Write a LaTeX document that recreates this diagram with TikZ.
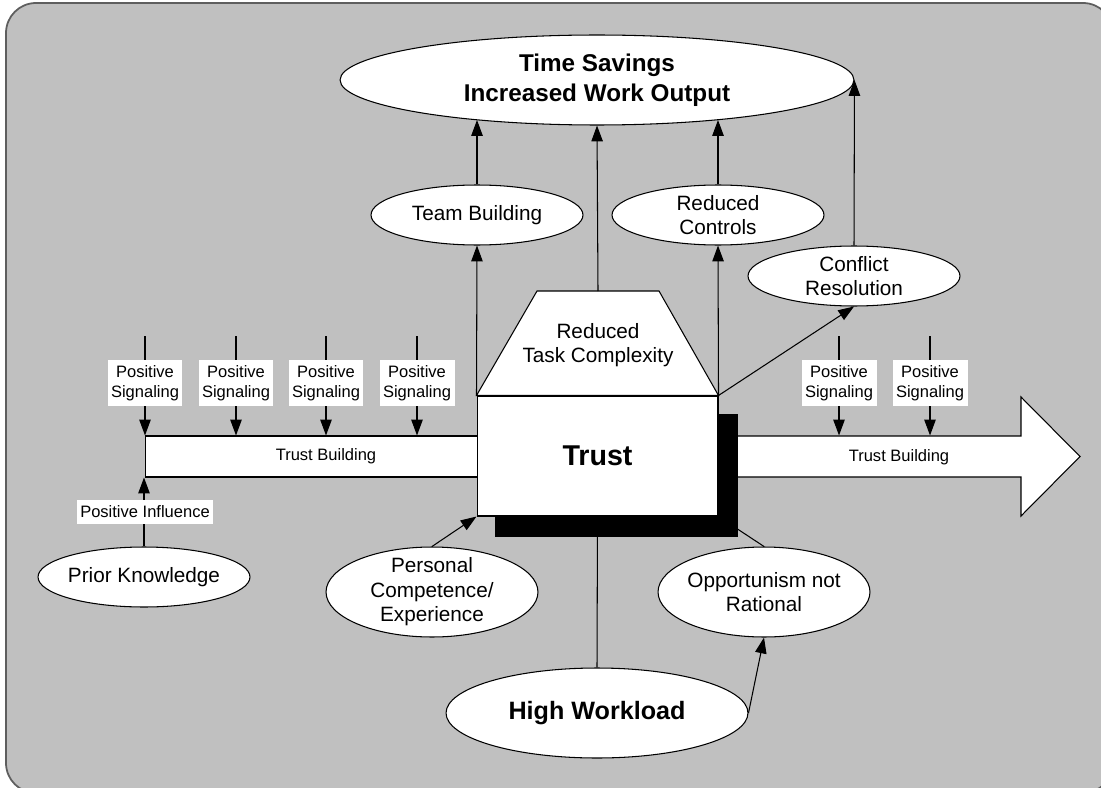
\documentclass[tikz,border=0pt]{standalone}
\usepackage{fontspec}
\setmainfont{Liberation Sans}
\usetikzlibrary{arrows.meta,shapes.geometric}
\definecolor{panelgray}{HTML}{C0C0C0}
\definecolor{rimgray}{HTML}{5E5E5E}
\pgfdeclarelayer{back}
\pgfsetlayers{back,main}

\begin{document}
\begin{tikzpicture}[
            x=0.02cm, y=-0.02cm,
            oval/.style={ellipse, draw=black, fill=white, line width=0.6pt, inner sep=-0.6cm, align=center, font=\fontsize{11.8}{14}\selectfont},
            small_oval/.style={oval, minimum width=4.24cm, minimum height=1.2cm},
            big_oval/.style={oval, minimum width=4.24cm, minimum height=1.8cm},
            tag/.style={fill=white, inner sep=0pt, align=center, font=\fontsize{9.4}{11.4}\selectfont},
            sig_tag/.style={tag, minimum width=1.5cm, minimum height=0.92cm},
            flow/.style={line width=0.6pt, -{Triangle[length=9pt, width=6.5pt]}},
            link/.style={line width=0.6pt},
            bar/.style={draw=black, fill=white, line width=0.6pt}
        ]
        \useasboundingbox (0,0) rectangle (1101,787);

        % Trust block with its roof
        \node[draw=black, fill=white, line width=0.6pt, minimum width=4.82cm, minimum height=2.4cm, inner sep=0pt,
              font=\fontsize{16.3}{19}\selectfont\bfseries] (trust) at (597.5,456) {Trust};
        \draw[link, fill=white] (trust.north west) -- (537,291) -- (659,291) -- (trust.north east) -- cycle;
        \coordinate (roof) at (598,291);
        \node[align=center, font=\fontsize{11.8}{14}\selectfont] (task) at (598,345) {Reduced\\Task Complexity};

        % Outcome
        \node[oval, minimum width=10.28cm, minimum height=1.8cm, font=\fontsize{13.8}{17}\selectfont\bfseries] (out) at (597,80)
            {Time Savings\\Increased Work Output};

        % Effects of trust
        \node[small_oval] (team) at (477,215) {Team Building};
        \node[small_oval] (ctrl) at (718,215) {Reduced\\Controls};
        \node[small_oval] (conf) at (854,276) {Conflict\\Resolution};

        % Influences on trust
        \node[small_oval] (prior) at (144,577) {Prior Knowledge};
        \node[big_oval] (pers) at (432,592) {Personal\\Competence/\\Experience};
        \node[big_oval] (opp) at (764,592) {Opportunism not\\Rational};
        \node[big_oval, minimum width=6.04cm, font=\fontsize{14.3}{17}\selectfont\bfseries] (high) at (597,713) {High Workload};

        % Signals
        \foreach \x [count=\i] in {145,236,326,417,839,930} {
            \coordinate (top\i) at (\x,336);
            \node[sig_tag] (sig\i) at (\x,383) {Positive\\Signaling};
        }
        \node[tag, minimum width=2.74cm, minimum height=0.48cm] (infl) at (145,512) {Positive Influence};

        \begin{pgfonlayer}{back}
            % Panel
            \draw[rimgray, line width=1pt, fill=panelgray, rounded corners=0.6cm] (6,3) rectangle (1113,793);

            % Trust building bars
            \node[bar, minimum width=7.24cm, minimum height=0.82cm, inner sep=0pt, font=\fontsize{9.4}{11.4}\selectfont] (lbar) at (326,456.5) {Trust Building};
            \draw[bar] (700,436) -- (1021,436) -- (1021,397) -- (1080,456.5) -- (1021,516) -- (1021,477) -- (700,477) -- cycle;
            \node[font=\fontsize{9.4}{11.4}\selectfont] (rbar) at (899,457) {Trust Building};

            \foreach \i in {1,...,6} {
                \draw[flow] (top\i) -- (top\i |- lbar.north);
            }
            \draw[flow] (prior.north) -- (prior.north |- lbar.south);

            % Hidden links
            \draw[link] (trust.south) -- (high.north);
            \draw[link] (trust.south east) -- (opp.north);

            % Shadow
            \fill[black] ([shift={(18,19)}]trust.north west) rectangle ([shift={(19,20)}]trust.south east);
        \end{pgfonlayer}

        % Arrows to outcome
        \draw[flow] (team.north) -- (team.north |- out.198);
        \draw[flow] (roof) -- (out.south);
        \draw[flow] (ctrl.north) -- (ctrl.north |- out.342);
        \draw[flow] (conf.north) -- (out.east);

        % Arrows from trust
        \draw[flow] (trust.north west) -- (team.south);
        \draw[flow] (trust.north east) -- (ctrl.south);
        \draw[flow] (trust.north east) -- (conf.south);

        % Arrows into trust
        \draw[flow] (pers.north) -- (trust.south west);
        \draw[flow] (high.east) -- (opp.south);

    \end{tikzpicture}
\end{document}
